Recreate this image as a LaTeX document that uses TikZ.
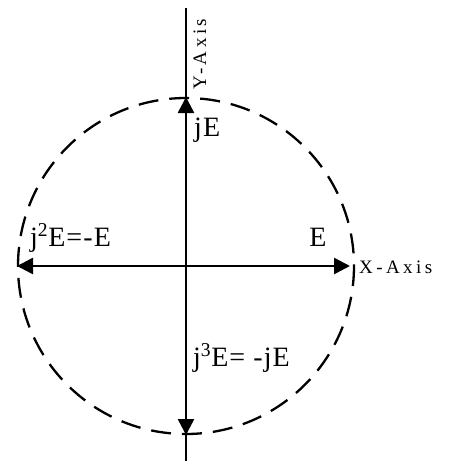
\documentclass[tikz,border=0pt]{standalone}
\usepackage{fontspec}
\setmainfont{Liberation Serif}
\usetikzlibrary{arrows.meta}
\begin{document}
\begin{tikzpicture}[x=1pt,y=-1pt,
  axisline/.style={line width=2.5pt},
  tipped/.style={axisline,-{Triangle[length=16pt,width=16pt]}},
  lbl/.style={font=\fontsize{28}{30}\selectfont\addfontfeatures{LetterSpace=4}, inner sep=0pt},
  axlbl/.style={font=\fontsize{19}{21}\selectfont\addfontfeatures{LetterSpace=18}, inner sep=0pt}]
\useasboundingbox (0,0) rectangle (454,461);
\coordinate (O) at (186,266);
\coordinate (top) at (186,8);
\coordinate (bot) at (186,461);
\coordinate (ytip) at (186,97);
\coordinate (ntip) at (186,435);
\coordinate (xtip) at (350,266);
\coordinate (ltip) at (17,266);
\draw[line width=2.3pt, dash pattern=on 20pt off 11pt] (O) circle[radius=168];
\draw[axisline] (top) -- (ytip);
\draw[axisline] (ntip) -- (bot);
\draw[tipped] (O) -- (ytip);
\draw[tipped] (O) -- (ntip);
\draw[tipped] (O) -- (xtip);
\draw[tipped] (O) -- (ltip);
\node[lbl, anchor=west] (jE) at (194,130) {jE};
\node[lbl, anchor=west] (mE) at (30,238) {j\textsuperscript{2}E=-E};
\node[lbl] (E) at (318,237) {E};
\node[lbl, anchor=west] (mjE) at (193,358) {j\textsuperscript{3}E= -jE};
\node[axlbl, anchor=west] (xa) at (359,267) {X-Axis};
\node[axlbl, rotate=90, anchor=west] (ya) at (200,90) {Y-Axis};
\end{tikzpicture}
\end{document}
